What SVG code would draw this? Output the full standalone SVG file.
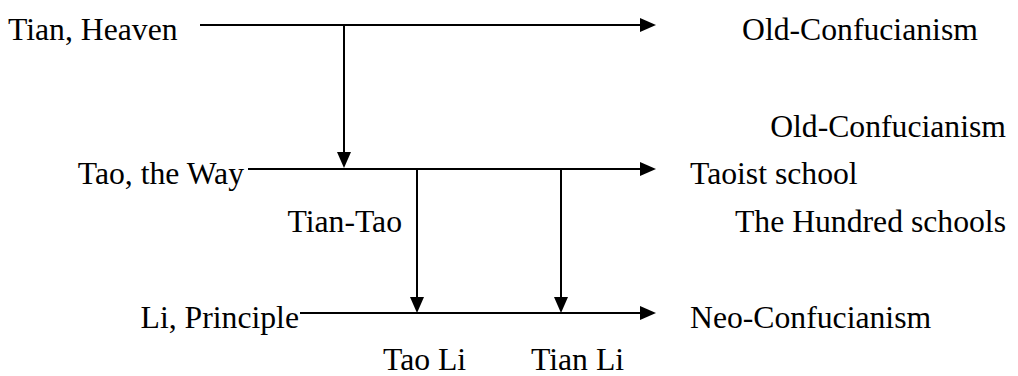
<svg xmlns="http://www.w3.org/2000/svg" width="1018" height="376" viewBox="0 0 1018 376">
  <style>
    .t { font-family: 'Liberation Serif', 'Times New Roman', Times, 'DejaVu Serif', serif; font-size: 31.7px; fill: #000; }
    .end { text-anchor: end; }
    .wire { stroke: #000; stroke-width: 2; fill: none; marker-end: url(#head); }
  </style>
  <defs>
    <marker id="head" viewBox="0 0 16 14" refX="0" refY="7" markerWidth="16" markerHeight="14" markerUnits="userSpaceOnUse" orient="auto">
      <path d="M0,0 L16,7 L0,14 Z" fill="#000"/>
    </marker>
  </defs>

  <rect width="1018" height="376" fill="#fff"/>

  <g id="connectors">
    <!-- Tian row -->
    <line class="wire" x1="200" y1="25" x2="640" y2="25"/>
    <line class="wire" x1="344" y1="25" x2="344" y2="152"/>
    <!-- Tao row -->
    <line class="wire" x1="248" y1="169" x2="640" y2="169"/>
    <line class="wire" x1="417" y1="169" x2="417" y2="297"/>
    <line class="wire" x1="561" y1="169" x2="561" y2="297"/>
    <!-- Li row -->
    <line class="wire" x1="300" y1="313" x2="640" y2="313"/>
  </g>

  <g font-family="Liberation Serif, serif">
    <g id="node-tian"><text class="t" x="8" y="40">Tian, Heaven</text></g>
    <g id="node-old-confucianism-1"><text class="t" x="742" y="40">Old-Confucianism</text></g>

    <g id="node-tao"><text class="t end" x="244" y="184">Tao, the Way</text></g>
    <g id="node-old-confucianism-2"><text class="t end" x="1006" y="137">Old-Confucianism</text></g>
    <g id="node-taoist"><text class="t" x="690" y="184">Taoist school</text></g>
    <g id="node-hundred"><text class="t end" x="1006" y="232">The Hundred schools</text></g>
    <g id="label-tian-tao"><text class="t end" x="402" y="232">Tian-Tao</text></g>

    <g id="node-li"><text class="t end" x="299" y="328">Li, Principle</text></g>
    <g id="node-neo"><text class="t" x="690" y="328">Neo-Confucianism</text></g>
    <g id="label-tao-li"><text class="t" x="383" y="370">Tao Li</text></g>
    <g id="label-tian-li"><text class="t" x="531" y="370">Tian Li</text></g>
  </g>
</svg>
